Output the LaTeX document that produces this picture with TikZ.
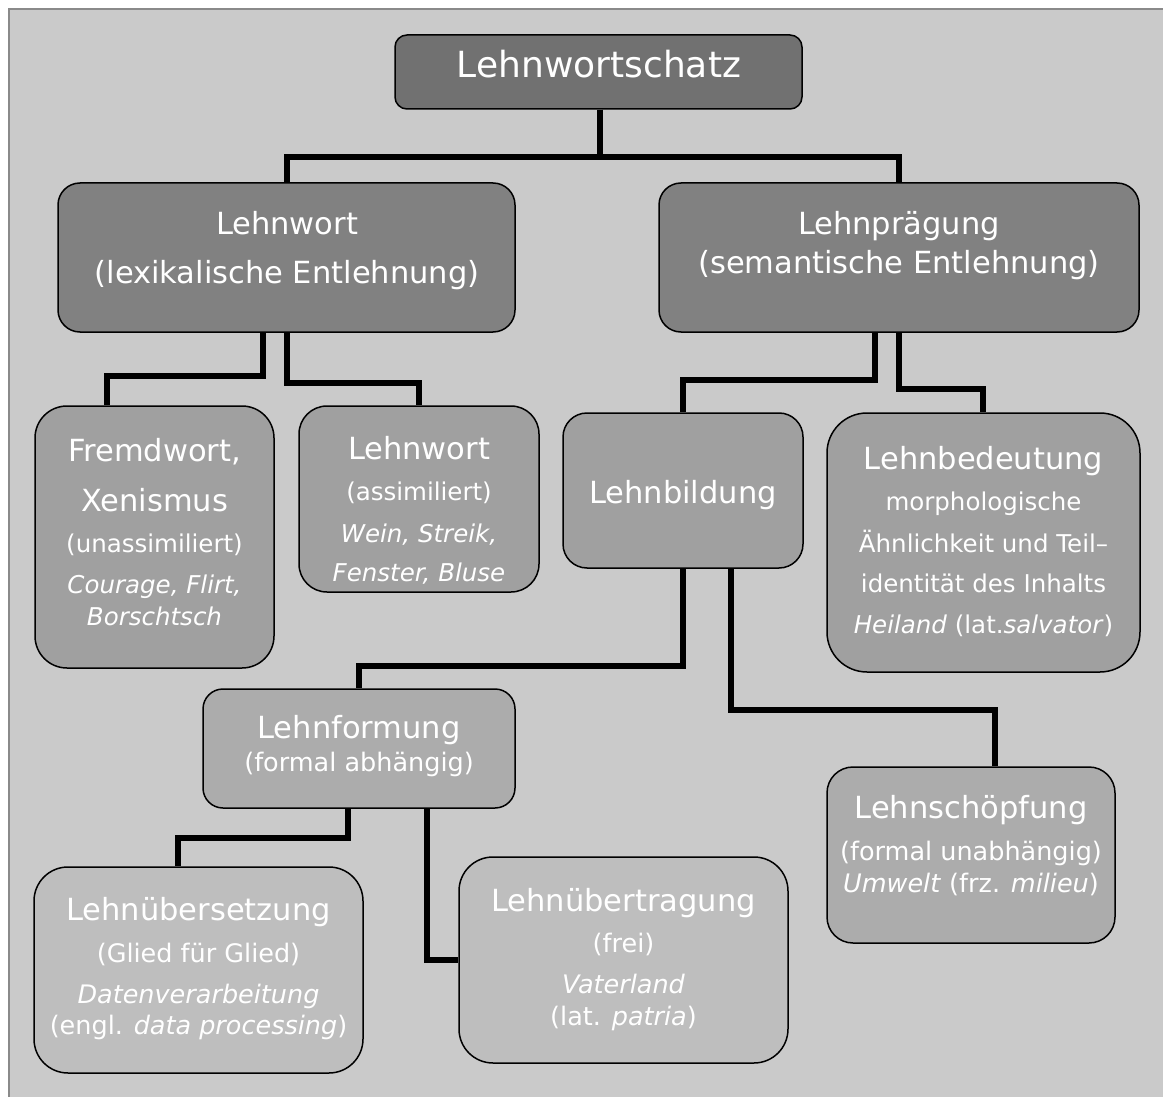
\documentclass[tikz,border=0pt]{standalone}
\usepackage{fontspec}
\setmainfont{DejaVu Sans}
\definecolor{bgc}{HTML}{CACACA}
\definecolor{framec}{HTML}{8A8A8A}
\definecolor{cA}{HTML}{717171}
\definecolor{cB}{HTML}{818181}
\definecolor{cC}{HTML}{A0A0A0}
\definecolor{cD}{HTML}{ACACAC}
\definecolor{cE}{HTML}{BEBEBE}
\tikzset{
  box/.style={draw=black, line width=1.5pt, inner sep=0pt},
  conn/.style={draw=black, line width=5.7pt},
  txt/.style={text=white, anchor=base, inner sep=0pt},
}
\newcommand\fBig{\fontsize{36}{40}\selectfont}
\newcommand\fMid{\fontsize{30.5}{34}\selectfont}
\newcommand\fSm{\fontsize{24.5}{28}\selectfont}
\newcommand\fSmb{\fontsize{25.5}{29}\selectfont}
\newcommand\fSmi{\fontsize{24.5}{28}\selectfont\itshape}
\newcommand\fSmbi{\fontsize{25.5}{29}\selectfont\itshape}
% name, left, top, right, bottom, fill, radius
\newcommand\Bx[7]{\node[box, fill=#6, rounded corners=#7pt,
  minimum width={#4pt-#2pt}, minimum height={#5pt-#3pt}]
  (#1) at ({(#2+#4)/2},{(#3+#5)/2}) {};}
% name, x, baseline y, font, text
\newcommand\Tline[5]{\node[txt, font=#4] (#1) at (#2,#3) {#5};}
\begin{document}
\begin{tikzpicture}[x=1pt, y=-1pt]
\useasboundingbox (0,0) rectangle (1163,1097);
\fill[bgc] (8,8) rectangle (1163,1097);
\draw[framec, line width=2pt] (9,1097) -- (9,9) -- (1163,9);

% boxes
\Bx{root}{395}{35}{802}{109}{cA}{12}
\Bx{lw}{58}{183}{515}{332}{cB}{22}
\Bx{lp}{659}{183}{1139}{332}{cB}{22}
\Bx{fw}{35}{406}{274}{668}{cC}{32}
\Bx{la}{299}{406}{539}{592}{cC}{28}
\Bx{lb}{563}{413}{803}{568}{cC}{24}
\Bx{lbd}{827}{413}{1140}{672}{cC}{40}
\Bx{lf}{203}{689}{515}{808}{cD}{20}
\Bx{ls}{827}{767}{1115}{943}{cD}{26}
\Bx{lue}{34}{867}{363}{1073}{cE}{34}
\Bx{lut}{459}{857}{788}{1063}{cE}{34}

% connectors
\draw[conn] ([xshift=1.5pt]root.south) -- ++(0,47) -| ([xshift=0.5pt]lw.north);
\draw[conn] ([xshift=1.5pt]root.south) -- ++(0,47) -| (lp.north);
\draw[conn] ([xshift=-23.5pt]lw.south) -- ++(0,43) -| ([xshift=-47.5pt]fw.north);
\draw[conn] ([xshift=0.5pt]lw.south) -- ++(0,50) -| (la.north);
\draw[conn] ([xshift=-24pt]lp.south) -- ++(0,47) -| (lb.north);
\draw[conn] (lp.south) -- ++(0,56) -| ([xshift=-0.5pt]lbd.north);
\draw[conn] (lb.south) -- ++(0,97) -| (lf.north);
\draw[conn] ([xshift=48pt]lb.south) -- ++(0,141) -| ([xshift=24pt]ls.north);
\draw[conn] ([xshift=-11pt]lf.south) -- ++(0,29) -| ([xshift=-20.5pt]lue.north);
\draw[conn] ([xshift=68pt]lf.south) |- (lut.west);

% texts
\Tline{t0}{599}{78}{\fBig}{Lehnwortschatz}

\Tline{t1a}{287}{234}{\fMid}{Lehnwort}
\Tline{t1b}{287}{283}{\fMid}{(lexikalische Entlehnung)}

\Tline{t2a}{899}{234}{\fMid}{Lehnprägung}
\Tline{t2b}{899}{273}{\fMid}{(semantische Entlehnung)}

\Tline{t3a}{154.5}{461}{\fMid}{Fremdwort,}
\Tline{t3b}{154.5}{511}{\fMid}{Xenismus}
\Tline{t3c}{154.5}{552}{\fSm}{(unassimiliert)}
\Tline{t3d}{154.5}{593}{\fSmi}{Courage, Flirt,}
\Tline{t3e}{154.5}{625}{\fSmi}{Borschtsch}

\Tline{t4a}{419}{459}{\fMid}{Lehnwort}
\Tline{t4b}{419}{500}{\fSm}{(assimiliert)}
\Tline{t4c}{419}{542}{\fSmi}{Wein, Streik,}
\Tline{t4d}{419}{581}{\fSmi}{Fenster, Bluse}

\Tline{t5a}{683}{503}{\fMid}{Lehnbildung}

\Tline{t6a}{983.5}{469}{\fMid}{Lehnbedeutung}
\Tline{t6b}{983.5}{510}{\fSm}{morphologische}
\Tline{t6c}{983.5}{552}{\fSm}{Ähnlichkeit und Teil–}
\Tline{t6d}{983.5}{592}{\fSm}{identität des Inhalts}
\Tline{t6e}{983.5}{633}{\fSm}{\textit{Heiland} (lat.\textit{salvator})}

\Tline{t7a}{359}{738}{\fMid}{Lehnformung}
\Tline{t7b}{359}{771}{\fSmb}{(formal abhängig)}

\Tline{t8a}{971}{818}{\fMid}{Lehnschöpfung}
\Tline{t8b}{971}{860}{\fSmb}{(formal unabhängig)}
\Tline{t8c}{971}{892}{\fSmb}{\textit{Umwelt} (frz. \textit{milieu})}

\Tline{t9a}{198.5}{920}{\fMid}{Lehnübersetzung}
\Tline{t9b}{198.5}{962}{\fSmb}{(Glied für Glied)}
\Tline{t9c}{198.5}{1003}{\fSmbi}{Datenverarbeitung}
\Tline{t9d}{198.5}{1034}{\fSmb}{(engl. \textit{data processing})}

\Tline{t10a}{623.5}{911}{\fMid}{Lehnübertragung}
\Tline{t10b}{623.5}{952}{\fSmb}{(frei)}
\Tline{t10c}{623.5}{993}{\fSmbi}{Vaterland}
\Tline{t10d}{623.5}{1025}{\fSmb}{(lat. \textit{patria})}
\end{tikzpicture}
\end{document}
